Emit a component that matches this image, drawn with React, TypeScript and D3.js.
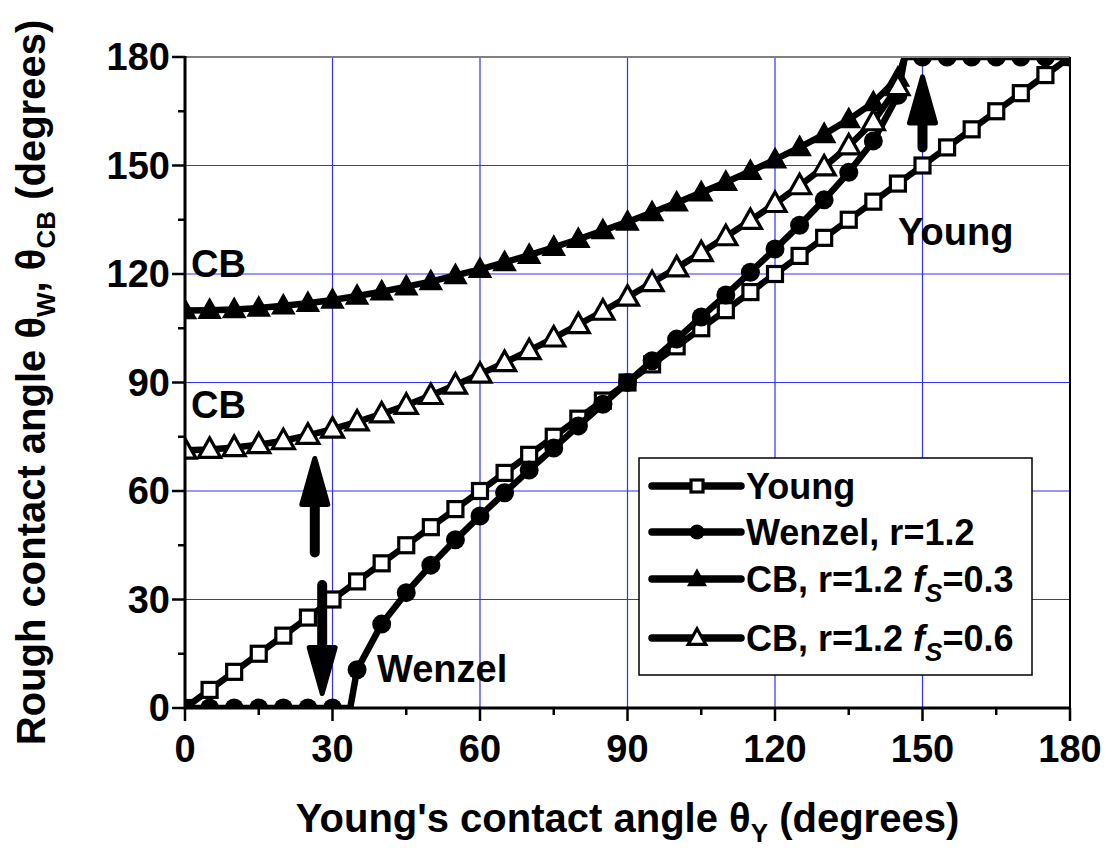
import React from 'react';
import * as d3 from 'd3';

// ---------- data ----------
const xTicks = [0, 30, 60, 90, 120, 150, 180];
const yTicks = [0, 30, 60, 90, 120, 150, 180];
const minorTicks = [15, 45, 75, 105, 135, 165];

const youngX = [0,5,10,15,20,25,30,35,40,45,50,55,60,65,70,75,80,85,90,95,100,105,110,115,120,125,130,135,140,145,150,155,160,165,170,175,180];
const youngY = [0,5,10,15,20,25,30,35,40,45,50,55,60,65,70,75,80,85,90,95,100,105,110,115,120,125,130,135,140,145,150,155,160,165,170,175,180];

const wenzelX = [0,5,10,15,20,25,30,33.6,35,40,45,50,55,60,65,70,75,80,85,90,95,100,105,110,115,120,125,130,135,140,145,146.4,150,155,160,165,170,175,180];
const wenzelY = [0,0,0,0,0,0,0,0,10.6,23.2,31.9,39.5,46.5,53.1,59.5,65.8,71.9,78.0,84.0,90,96.0,102.0,108.1,114.2,120.5,126.9,133.5,140.5,148.1,156.8,169.4,180,180,180,180,180,180,180,180];

const cbX = [0,5,10,15,20,25,30,35,40,45,50,55,60,65,70,75,80,85,90,95,100,105,110,115,120,125,130,135,140,145,146.4];
const cb03Y = [109.9,110.0,110.2,110.6,111.2,111.9,112.8,113.9,115.1,116.5,117.9,119.6,121.3,123.2,125.2,127.4,129.6,132.0,134.4,137.0,139.7,142.5,145.4,148.4,151.6,155.0,158.6,162.7,167.4,174.2,180];
const cb06Y = [71.3,71.5,72.0,72.8,73.9,75.4,77.1,79.1,81.3,83.7,86.4,89.3,92.3,95.5,98.8,102.3,106.0,109.7,113.6,117.6,121.7,125.9,130.3,134.8,139.5,144.4,149.6,155.4,162.1,171.8,180];

// arrows: x, start y, tip y (data units)
const arrowX = [26.4, 27.9, 150];
const arrowFrom = [43, 34, 155];
const arrowTo = [69, 4, 174.5];

type Marker = 'square' | 'circle' | 'triFilled' | 'triOpen';

const series: { name: string; xs: number[]; ys: number[]; marker: Marker }[] = [
  { name: 'young', xs: youngX, ys: youngY, marker: 'square' },
  { name: 'wenzel', xs: wenzelX, ys: wenzelY, marker: 'circle' },
  { name: 'cb03', xs: cbX, ys: cb03Y, marker: 'triFilled' },
  { name: 'cb06', xs: cbX, ys: cb06Y, marker: 'triOpen' },
];

const W = 1111, H = 850;
const L = 185, R = 1070, T = 57, B = 708;
const FONT = '"Liberation Sans", Arial, Helvetica, sans-serif';

function MarkerShape({ type, cx, cy, s = 1 }: { type: Marker; cx: number; cy: number; s?: number }) {
  if (type === 'square') {
    const h = 7.5 * s;
    return <rect x={cx - h} y={cy - h} width={2 * h} height={2 * h} fill="#fff" stroke="#000" strokeWidth={3.2} />;
  }
  if (type === 'circle') return <circle cx={cx} cy={cy} r={9.5 * s} fill="#000" />;
  const w = 11 * s, top = 11.5 * s, bot = 8 * s;
  const d = `M${cx},${cy - top}L${cx + w},${cy + bot}L${cx - w},${cy + bot}Z`;
  if (type === 'triFilled') return <path d={d} fill="#000" stroke="#000" strokeWidth={1.5} />;
  return <path d={d} fill="#fff" stroke="#000" strokeWidth={3.2} strokeLinejoin="miter" />;
}

export default function App() {
  const x = d3.scaleLinear().domain([0, 180]).range([L, R]);
  const y = d3.scaleLinear().domain([0, 180]).range([B, T]);
  const line = d3.line<[number, number]>().x(d => x(d[0])).y(d => y(d[1]));

  const gridVals = [30, 60, 90, 120, 150];

  const arrow = (i: number) => {
    const ax = x(arrowX[i]);
    const y0 = y(arrowFrom[i]);
    const y1 = y(arrowTo[i]);
    const dir = y1 < y0 ? -1 : 1;
    const headLen = 46;
    const baseY = y1 - dir * headLen;
    const hw = 13;
    const head = `M${ax},${y1}L${ax + hw},${baseY}L${ax - hw},${baseY}Z`;
    return (
      <g key={'arr' + i}>
        <line x1={ax} y1={y0} x2={ax} y2={baseY} stroke="#000" strokeWidth={10} strokeLinecap="round" />
        <path d={head} fill="#000" stroke="#000" strokeWidth={5} strokeLinejoin="round" />
      </g>
    );
  };

  // legend
  const lgX = 639, lgY = 458, lgW = 393, lgH = 217;
  const legendRows = [486, 532, 579, 638];

  return (
    <svg width={W} height={H} style={{ position: 'absolute', left: 0, top: 0, background: '#fff' }} fontFamily={FONT}>
      <defs>
        <clipPath id="plotclip">
          <rect x={L} y={T} width={R - L} height={B - T} />
        </clipPath>
      </defs>
      <rect x={0} y={0} width={W} height={H} fill="#fff" />

      {/* grid */}
      {gridVals.map(v => (
        <line key={'gx' + v} x1={x(v)} x2={x(v)} y1={T} y2={B} stroke="#3030ff" strokeWidth={1.2} />
      ))}
      {gridVals.map(v => (
        <line key={'gy' + v} x1={L} x2={R} y1={y(v)} y2={y(v)} stroke="#3030ff" strokeWidth={1.2} />
      ))}

      {/* series */}
      <g clipPath="url(#plotclip)">
        {series.map(s => {
          const pts = s.xs.map((v, i) => [v, s.ys[i]] as [number, number]);
          return (
            <g key={s.name}>
              <path d={line(pts) || ''} fill="none" stroke="#000" strokeWidth={6.5} strokeLinejoin="round" />
              {pts.filter(p => p[0] % 5 === 0).map((p, i) => (
                <MarkerShape key={i} type={s.marker} cx={x(p[0])} cy={y(p[1])} />
              ))}
            </g>
          );
        })}
      </g>

      {/* arrows */}
      {arrowX.map((_, i) => arrow(i))}

      {/* annotations */}
      <g fontWeight="bold" fontSize={38} fill="#000">
        <text x={191} y={277}>CB</text>
        <text x={191} y={418}>CB</text>
        <text x={377} y={682}>Wenzel</text>
        <text x={898} y={245}>Young</text>
      </g>

      {/* frame */}
      <line x1={L} x2={R} y1={T} y2={T} stroke="#808080" strokeWidth={2} />
      <line x1={R} x2={R} y1={T} y2={B} stroke="#000" strokeWidth={2} />
      <line x1={L} x2={R + 1} y1={B} y2={B} stroke="#000" strokeWidth={3} />
      <line x1={L} x2={L} y1={T - 1} y2={B + 1.5} stroke="#000" strokeWidth={3} />

      {/* ticks */}
      {xTicks.map(v => (
        <line key={'xt' + v} x1={x(v)} x2={x(v)} y1={B} y2={B + 13} stroke="#000" strokeWidth={2.5} />
      ))}
      {minorTicks.map(v => (
        <line key={'xm' + v} x1={x(v)} x2={x(v)} y1={B} y2={B + 7} stroke="#000" strokeWidth={2.5} />
      ))}
      {yTicks.map(v => (
        <line key={'yt' + v} x1={L - 13} x2={L} y1={y(v)} y2={y(v)} stroke="#000" strokeWidth={2.5} />
      ))}
      {minorTicks.map(v => (
        <line key={'ym' + v} x1={L - 7} x2={L} y1={y(v)} y2={y(v)} stroke="#000" strokeWidth={2.5} />
      ))}

      {/* tick labels */}
      <g fontWeight="bold" fontSize={38} fill="#000">
        {xTicks.map(v => (
          <text key={'xl' + v} x={x(v)} y={762} textAnchor="middle">{v}</text>
        ))}
        {yTicks.map(v => (
          <text key={'yl' + v} x={170} y={y(v) + 13} textAnchor="end">{v}</text>
        ))}
      </g>

      {/* axis titles */}
      <text x={(L + R) / 2} y={832} textAnchor="middle" fontWeight="bold" fontSize={40}>
        <tspan>Young's contact angle θ</tspan>
        <tspan fontSize={26} dy={10}>Y</tspan>
        <tspan dy={-10}> (degrees)</tspan>
      </text>
      <text transform={`translate(45,${(T + B) / 2}) rotate(-90)`} textAnchor="middle" fontWeight="bold" fontSize={40}>
        <tspan>Rough contact angle θ</tspan>
        <tspan fontSize={26} dy={10}>W</tspan>
        <tspan dy={-10}>, θ</tspan>
        <tspan fontSize={26} dy={10}>CB</tspan>
        <tspan dy={-10}> (degrees)</tspan>
      </text>

      {/* legend */}
      <rect x={lgX} y={lgY} width={lgW} height={lgH} fill="#fff" stroke="#000" strokeWidth={1.5} />
      {series.map((s, i) => {
        const ry = legendRows[i];
        return (
          <g key={'lg' + s.name}>
            <line x1={652} x2={741} y1={ry} y2={ry} stroke="#000" strokeWidth={7.5} strokeLinecap="round" />
            <MarkerShape type={s.marker} cx={697} cy={ry} s={0.8} />
          </g>
        );
      })}
      <g fontWeight="bold" fontSize={36} fill="#000">
        <text x={746} y={legendRows[0] + 13}>Young</text>
        <text x={746} y={legendRows[1] + 13}>Wenzel, r=1.2</text>
        <text x={746} y={legendRows[2] + 13}>
          <tspan>CB, r=1.2 </tspan>
          <tspan fontStyle="italic">f</tspan>
          <tspan fontStyle="italic" fontSize={26} dy={10}>S</tspan>
          <tspan dy={-10}>=0.3</tspan>
        </text>
        <text x={746} y={legendRows[3] + 13}>
          <tspan>CB, r=1.2 </tspan>
          <tspan fontStyle="italic">f</tspan>
          <tspan fontStyle="italic" fontSize={26} dy={10}>S</tspan>
          <tspan dy={-10}>=0.6</tspan>
        </text>
      </g>
    </svg>
  );
}
